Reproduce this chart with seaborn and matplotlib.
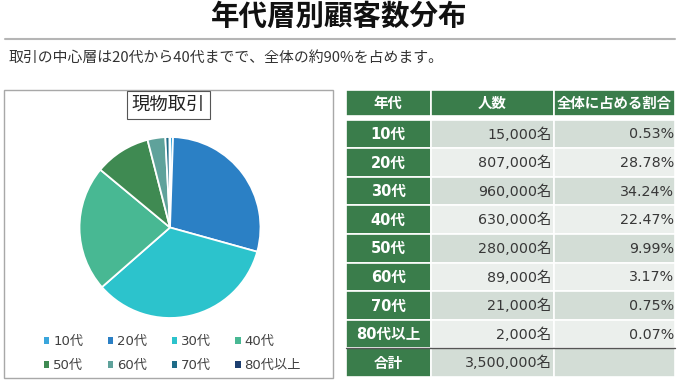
import matplotlib
matplotlib.use("Agg")
import matplotlib.pyplot as plt
from matplotlib.patches import Rectangle
import seaborn as sns

# ---- data ----
ages = ["10代", "20代", "30代", "40代", "50代", "60代", "70代", "80代以上"]
counts = [15000, 807000, 960000, 630000, 280000, 89000, 21000, 2000]
count_labels = ["15,000名", "807,000名", "960,000名", "630,000名",
                "280,000名", "89,000名", "21,000名", "2,000名"]
pct_labels = ["0.53%", "28.78%", "34.24%", "22.47%", "9.99%", "3.17%", "0.75%", "0.07%"]
total_label = "合計"
total_value = "3,500,000名"
headers = ["年代", "人数", "全体に占める割合"]
main_title = "年代層別顧客数分布"
subtitle = "取引の中心層は20代から40代までで、全体の約90%を占めます。"
chart_title = "現物取引"

sns.set_style("white")
CJK = "Noto Sans CJK JP"
MIX = ["DejaVu Sans", "Noto Sans CJK JP"]
plt.rcParams["font.family"] = [CJK, "DejaVu Sans"]

palette = sns.color_palette(["#3aa6dc", "#2b80c5", "#2cc3cc", "#48b893",
                             "#3f8a52", "#5fa29b", "#1f6c88", "#1d3f70"])

W, H = 680, 383
fig = plt.figure(figsize=(W / 100, H / 100), dpi=100)

# background overlay in pixel coordinates
bg = fig.add_axes([0, 0, 1, 1])
bg.set_xlim(0, W)
bg.set_ylim(H, 0)
bg.axis("off")

bg.text(339, 17, main_title, ha="center", va="center", fontsize=20.5,
        fontweight="bold", color="#111111", family=CJK)
bg.plot([5, 675], [39, 39], color="#b5b5b5", lw=1.5)
bg.text(9, 58, subtitle, ha="left", va="center", fontsize=10.7,
        color="#333333", family=CJK)

# chart box
bg.add_patch(Rectangle((4, 89.5), 329, 288, fill=False, ec="#a8a8a8", lw=1))
bg.text(168.5, 105, chart_title, ha="center", va="center", fontsize=13.2,
        color="#222222", family=CJK,
        bbox=dict(boxstyle="square,pad=0.28", fc="white", ec="#555555", lw=0.8))

# table
green = "#3a7d4b"
odd_c = "#d3ddd6"
even_c = "#ebefec"
cx = [346, 430.5, 553.5, 675]
# header
for j in range(3):
    bg.add_patch(Rectangle((cx[j], 90), cx[j + 1] - cx[j], 26, fc=green, ec="white", lw=1.2))
    bg.text((cx[j] + cx[j + 1]) / 2, 103.5, headers[j], ha="center", va="center",
            fontsize=10.4, fontweight="bold", color="white", family=CJK)
top = 119.5
rh = (377 - top) / 9
rows = [(ages[i], count_labels[i], pct_labels[i]) for i in range(len(ages))]
rows.append((total_label, total_value, ""))
for i, (a, c, p) in enumerate(rows):
    y0 = top + i * rh
    fc = odd_c if i % 2 == 0 else even_c
    bg.add_patch(Rectangle((cx[0], y0), cx[1] - cx[0], rh, fc=green, ec="white", lw=1.2))
    bg.add_patch(Rectangle((cx[1], y0), cx[2] - cx[1], rh, fc=fc, ec="white", lw=1.2))
    bg.add_patch(Rectangle((cx[2], y0), cx[3] - cx[2], rh, fc=fc, ec="white", lw=1.2))
    ym = y0 + rh / 2 + 0.5
    bg.text((cx[0] + cx[1]) / 2, ym, a, ha="center", va="center", fontsize=10.5,
            fontweight="bold", color="white", family=MIX)
    bg.text(cx[2] - 2, ym, c, ha="right", va="center", fontsize=10.3,
            color="#383838", family=MIX)
    if p:
        bg.text(cx[3] - 1, ym, p, ha="right", va="center", fontsize=10.3,
                color="#383838", family=MIX)
bg.plot([cx[0], cx[3]], [top + 8 * rh, top + 8 * rh], color="#555555", lw=1)

# pie
cxp, cyp, r = 170, 227.5, 90.5
ax = fig.add_axes([(cxp - r) / W, 1 - (cyp + r) / H, 2 * r / W, 2 * r / H])
wedges, _ = ax.pie(counts, colors=palette, startangle=90, counterclock=False,
                   wedgeprops=dict(edgecolor="white", linewidth=1.3))
ax.set_aspect("equal")
ax.set_xlim(-1, 1)
ax.set_ylim(-1, 1)

order = [0, 4, 1, 5, 2, 6, 3, 7]
leg = fig.legend([wedges[k] for k in order], [ages[k] for k in order],
                 loc="upper left", bbox_to_anchor=(44 / W, 1 - 335 / H),
                 ncol=4, frameon=False, fontsize=9.5, handlelength=0.4,
                 handleheight=0.4, handletextpad=0.3, columnspacing=1.85,
                 labelspacing=0.85, borderaxespad=0, borderpad=0)
for t in leg.get_texts():
    t.set_color("#404040")
    t.set_family(MIX)
for h in leg.legend_handles:
    h.set_edgecolor("none")

fig.savefig("out.png", dpi=100)
